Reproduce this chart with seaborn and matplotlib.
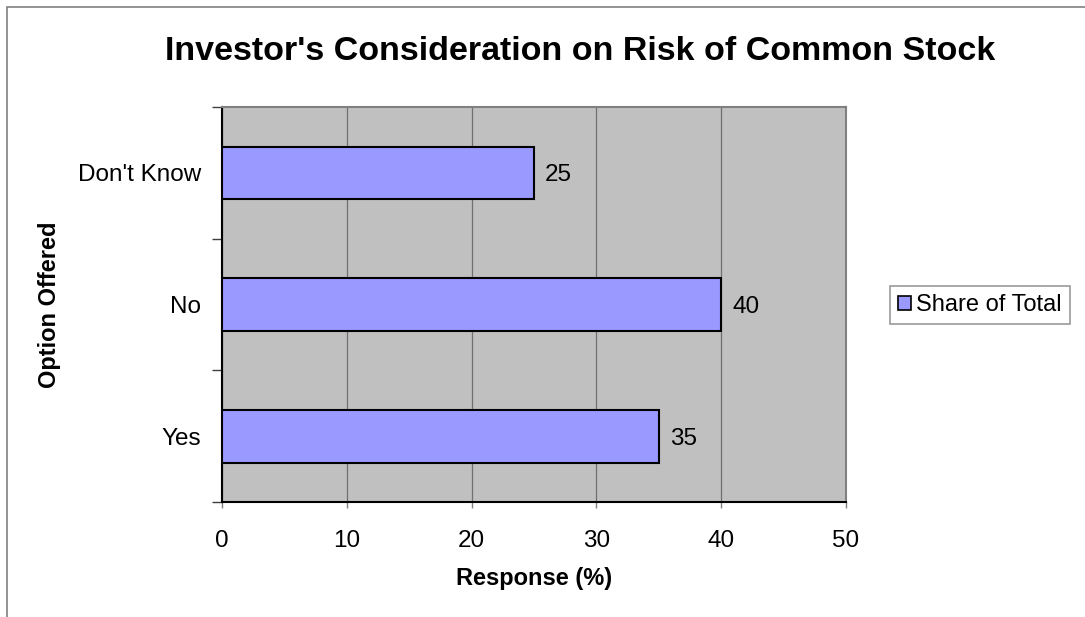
import matplotlib
matplotlib.use("Agg")
import matplotlib.pyplot as plt
import seaborn as sns
import pandas as pd
from matplotlib.patches import Rectangle, Patch

categories = ["Don't Know", "No", "Yes"]
values = [25, 40, 35]
series_name = "Share of Total"
x_ticks = [0, 10, 20, 30, 40, 50]

sns.set_theme(style="white")
plt.rcParams['font.family'] = ['Liberation Sans', 'DejaVu Sans']
plt.rcParams['text.color'] = 'black'
plt.rcParams['axes.labelcolor'] = 'black'
plt.rcParams['xtick.color'] = 'black'
plt.rcParams['ytick.color'] = 'black'

df = pd.DataFrame({"Option": categories, "Response": values})

fig = plt.figure(figsize=(10.85, 6.17), dpi=100)
W, H = 1085, 617
ax = fig.add_axes([222 / W, 1 - 502 / H, (846 - 222) / W, (502 - 107) / H])
ax.set_facecolor("#C0C0C0")

sns.barplot(data=df, x="Response", y="Option", order=categories, orient="h",
            color="#9999FF", edgecolor="black", linewidth=1.5, width=0.4,
            saturation=1, ax=ax, zorder=3)

for c in ax.containers:
    texts = ax.bar_label(c, labels=[str(v) for v in values], padding=8, fontsize=17.5,
                         color="black")
    for t in texts:
        t.set_va("center_baseline")

ax.set_xlim(0, 50)
ax.set_ylim(2.5, -0.5)
ax.set_xticks(x_ticks)
ax.set_xticklabels([str(t) for t in x_ticks], fontsize=17.5)
ax.tick_params(axis="x", which="major", length=4, color="#808080", width=1,
               pad=16, bottom=True, labelcolor="black")
ax.set_yticks(range(len(categories)))
ax.set_yticklabels(categories, fontsize=17.5)
ax.tick_params(axis="y", which="major", length=0, pad=15, labelcolor="black")
ax.set_yticks([-0.5, 0.5, 1.5, 2.5], minor=True)
ax.tick_params(axis="y", which="minor", length=7, color="#404040", width=1, left=True)

ax.grid(axis="x", color="#707070", linewidth=0.9, zorder=0)
ax.set_axisbelow(True)

for side in ["top", "right"]:
    ax.spines[side].set_color("#808080")
    ax.spines[side].set_linewidth(1.5)
for side in ["left", "bottom"]:
    ax.spines[side].set_color("black")
    ax.spines[side].set_linewidth(1.5)

ax.set_xlabel("Response (%)", fontsize=17, fontweight="bold", labelpad=11, color="black")
ax.set_ylabel("Option Offered", fontsize=17, fontweight="bold", labelpad=12, color="black")

fig.text(580 / W, 1 - 52 / H, "Investor's Consideration on Risk of Common Stock",
         ha="center", va="center", fontsize=24.5, fontweight="bold", color="black")

leg = fig.legend(handles=[Patch(facecolor="#9999FF", edgecolor="black", linewidth=1.2,
                                label=series_name)],
                 loc="center", bbox_to_anchor=(980 / W, 1 - 305 / H),
                 fontsize=17, frameon=True, fancybox=False, handlelength=0.55,
                 handleheight=0.55, handletextpad=0.2, borderpad=0.35,
                 borderaxespad=0.0, labelcolor="black")
leg.get_frame().set_edgecolor("#808080")
leg.get_frame().set_linewidth(1.2)

fig.patches.append(Rectangle((7 / W, -0.5), 2.0, 1.5 - 7 / H, transform=fig.transFigure,
                             fill=False, edgecolor="#808080", linewidth=1.2, zorder=0))

fig.savefig("out.png", dpi=100)
